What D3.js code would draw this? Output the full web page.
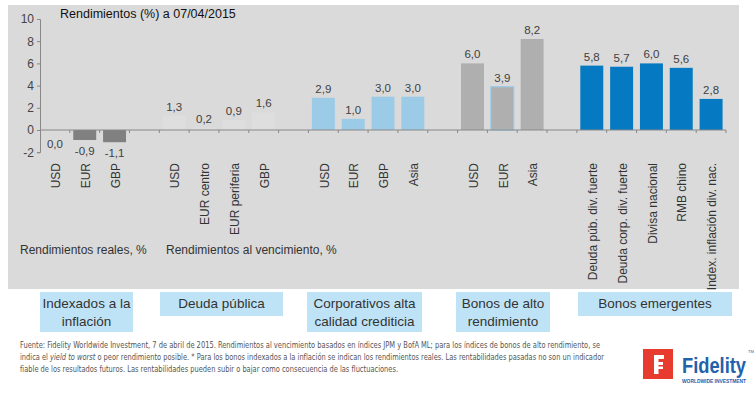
<!DOCTYPE html>
<html lang="es">

<head>
    <meta charset="UTF-8">
    <script src="https://d3js.org/d3.v7.min.js"></script>
    <title>Rendimientos (%) a 07/04/2015</title>
    <style>
        body { margin: 0; background: #fff; }
        svg { display: block; font-family: "Liberation Sans", Arial, sans-serif; }
        .panel { fill: #dadada; }
        .val { font-size: 11.5px; fill: #404040; text-anchor: middle; }
        .cat { font-size: 12px; fill: #333; }
        .y-axis text { font-size: 12px; fill: #444; font-family: "Liberation Sans", Arial, sans-serif; }
        .y-axis path, .y-axis line { stroke: #888; }
        .box { fill: #bfe3f6; }
        .box-text { font-size: 13.5px; fill: #333; text-anchor: middle; }
        .note { font-family: "Liberation Sans Narrow", "Arial Narrow", "DejaVu Sans Condensed", sans-serif; font-size: 9.5px; fill: #555; }
    </style>
</head>

<body>
    <div id="chart"></div>
    <script>
        // Data
        const groupNames = ["Indexados a la inflación", "Deuda pública", "Corporativos alta calidad crediticia",
            "Bonos de alto rendimiento", "Bonos emergentes"];
        const indexLabels = ["USD", "EUR", "GBP"];
        const indexValues = [0.0, -0.9, -1.1];
        const govLabels = ["USD", "EUR centro", "EUR periferia", "GBP"];
        const govValues = [1.3, 0.2, 0.9, 1.6];
        const corpLabels = ["USD", "EUR", "GBP", "Asia"];
        const corpValues = [2.9, 1.0, 3.0, 3.0];
        const hyLabels = ["USD", "EUR", "Asia"];
        const hyValues = [6.0, 3.9, 8.2];
        const emLabels = ["Deuda púb. div. fuerte", "Deuda corp. div. fuerte", "Divisa nacional", "RMB chino", "Index. inflación div. nac."];
        const emValues = [5.8, 5.7, 6.0, 5.6, 2.8];
        const yTicks = [-2, 0, 2, 4, 6, 8, 10];

        const groups = [
            { labels: indexLabels, values: indexValues, color: "#808080" },
            { labels: govLabels, values: govValues, color: "#dedede" },
            { labels: corpLabels, values: corpValues, color: "#9ccbe8" },
            { labels: hyLabels, values: hyValues, color: "#afafaf" },
            { labels: emLabels, values: emValues, color: "#0579c1" }
        ];

        // Flatten into bands, with an empty band between groups
        const bars = [];
        const keys = [];
        groups.forEach((g, gi) => {
            g.labels.forEach((l, i) => {
                const key = gi + "-" + i;
                keys.push(key);
                bars.push({ key, label: l, value: g.values[i], color: g.color, group: gi });
            });
            if (gi < groups.length - 1) keys.push("gap" + gi);
        });

        const width = 756;
        const height = 393;
        const fmt = v => d3.format(".1f")(v).replace(".", ",").replace("−", "-");

        const svg = d3.select("#chart")
            .append("svg")
            .attr("width", width)
            .attr("height", height);

        // Background panel
        svg.append("rect")
            .attr("class", "panel")
            .attr("x", 8)
            .attr("y", 5)
            .attr("width", 731)
            .attr("height", 284);

        // Scales
        const x = d3.scaleBand()
            .domain(keys)
            .range([40, 726]);

        const y = d3.scaleLinear()
            .domain([-2, 10])
            .range([152.2, 19]);

        const barW = x.bandwidth() * 0.77;

        // Title
        svg.append("text")
            .attr("x", 60)
            .attr("y", 18)
            .attr("font-size", 12.5)
            .attr("fill", "#111")
            .text("Rendimientos (%) a 07/04/2015");

        // Y axis
        svg.append("g")
            .attr("class", "y-axis")
            .attr("transform", "translate(40,0)")
            .call(d3.axisLeft(y).tickValues(yTicks).tickSize(3).tickSizeOuter(3).tickFormat(d => d3.format("d")(d).replace("−", "-")));

        // Bars
        svg.selectAll(".bar")
            .data(bars)
            .enter()
            .append("rect")
            .attr("class", "bar")
            .attr("x", d => x(d.key) + (x.bandwidth() - barW) / 2)
            .attr("y", d => y(Math.max(0, d.value)))
            .attr("width", barW)
            .attr("height", d => Math.abs(y(d.value) - y(0)))
            .attr("fill", d => d.color)
            .attr("stroke", d => d.group === 3 && d.label === "EUR" ? "#9ccbe8" : "none")
            .attr("stroke-width", 1.2);

        // X axis line and ticks at band boundaries
        const xAxis = svg.append("g").attr("class", "x-axis");
        xAxis.append("line")
            .attr("x1", 40).attr("x2", 726)
            .attr("y1", y(0)).attr("y2", y(0))
            .attr("stroke", "#888");
        xAxis.selectAll(".tick")
            .data(keys.slice(1).map(k => x(k)).concat([726]))
            .enter()
            .append("line")
            .attr("x1", d => d).attr("x2", d => d)
            .attr("y1", y(0)).attr("y2", y(0) + 3)
            .attr("stroke", "#888");

        // Value labels
        svg.selectAll(".val")
            .data(bars)
            .enter()
            .append("text")
            .attr("class", "val")
            .attr("x", d => x(d.key) + x.bandwidth() / 2)
            .attr("y", d => d.value > 0 ? y(d.value) - 5 : (d.value < 0 ? y(d.value) + 15 : y(0) + 18))
            .text(d => fmt(d.value));

        // Category labels (rotated)
        svg.selectAll(".cat")
            .data(bars)
            .enter()
            .append("text")
            .attr("class", "cat")
            .attr("text-anchor", "end")
            .attr("dy", "0.35em")
            .attr("transform", d => `translate(${x(d.key) + x.bandwidth() / 2 + 1},163) rotate(-90)`)
            .text(d => d.label);

        // Sub labels
        svg.append("text").attr("class", "cat").attr("x", 20).attr("y", 254).text("Rendimientos reales, %");
        svg.append("text").attr("class", "cat").attr("x", 166).attr("y", 254).text("Rendimientos al vencimiento, %");

        // Group boxes
        const boxes = [
            { x: 40, w: 93, h: 40, lines: ["Indexados a la", "inflación"] },
            { x: 160, w: 123, h: 24, lines: ["Deuda pública"] },
            { x: 307, w: 115, h: 40, lines: ["Corporativos alta", "calidad crediticia"] },
            { x: 456, w: 94, h: 40, lines: ["Bonos de alto", "rendimiento"] },
            { x: 578, w: 154, h: 24, lines: ["Bonos emergentes"] }
        ];
        const boxG = svg.selectAll(".boxg")
            .data(boxes)
            .enter()
            .append("g");
        boxG.append("rect")
            .attr("class", "box")
            .attr("x", d => d.x)
            .attr("y", 292)
            .attr("width", d => d.w)
            .attr("height", d => d.h);
        boxG.each(function (d) {
            d3.select(this).selectAll("text")
                .data(d.lines)
                .enter()
                .append("text")
                .attr("class", "box-text")
                .attr("x", d.x + d.w / 2)
                .attr("y", (l, i) => 308 + i * 18)
                .text(l => l);
        });

        // Footnote
        const note = svg.append("g").attr("class", "note");
        note.append("text").attr("x", 20).attr("y", 348)
            .attr("textLength", 580).attr("lengthAdjust", "spacingAndGlyphs")
            .text("Fuente: Fidelity Worldwide Investment, 7 de abril de 2015. Rendimientos al vencimiento basados en índices JPM y BofA ML; para los índices de bonos de alto rendimiento, se");
        note.append("text").attr("x", 20).attr("y", 360)
            .attr("textLength", 584).attr("lengthAdjust", "spacingAndGlyphs")
            .html('indica el <tspan font-style="italic">yield to worst</tspan> o peor rendimiento posible. * Para los bonos indexados a la inflación se indican los rendimientos reales. Las rentabilidades pasadas no son un indicador');
        note.append("text").attr("x", 20).attr("y", 372)
            .attr("textLength", 378).attr("lengthAdjust", "spacingAndGlyphs")
            .text("fiable de los resultados futuros. Las rentabilidades pueden subir o bajar como consecuencia de las fluctuaciones.");

        // Fidelity logo
        const logo = svg.append("g").attr("transform", "translate(643,349)");
        logo.append("rect").attr("width", 30).attr("height", 30).attr("fill", "#e63b2e");
        logo.append("path")
            .attr("d", "M11,6 H21 V10 H15.5 V13 H20 V16 H15.5 V17.5 H20 V20 H15.5 V25 H11 Z")
            .attr("fill", "#fff");
        logo.append("text")
            .attr("x", 39).attr("y", 24)
            .attr("font-size", 22).attr("font-weight", "bold")
            .attr("fill", "#2262ad")
            .attr("textLength", 64).attr("lengthAdjust", "spacingAndGlyphs")
            .text("Fidelity");
        logo.append("text")
            .attr("x", 39).attr("y", 34)
            .attr("font-size", 5).attr("font-weight", "bold")
            .attr("fill", "#2262ad")
            .attr("textLength", 64).attr("lengthAdjust", "spacingAndGlyphs")
            .text("WORLDWIDE INVESTMENT");
        logo.append("text")
            .attr("x", 105).attr("y", 4)
            .attr("font-size", 4).attr("fill", "#2262ad")
            .text("TM");
    </script>
</body>

</html>
